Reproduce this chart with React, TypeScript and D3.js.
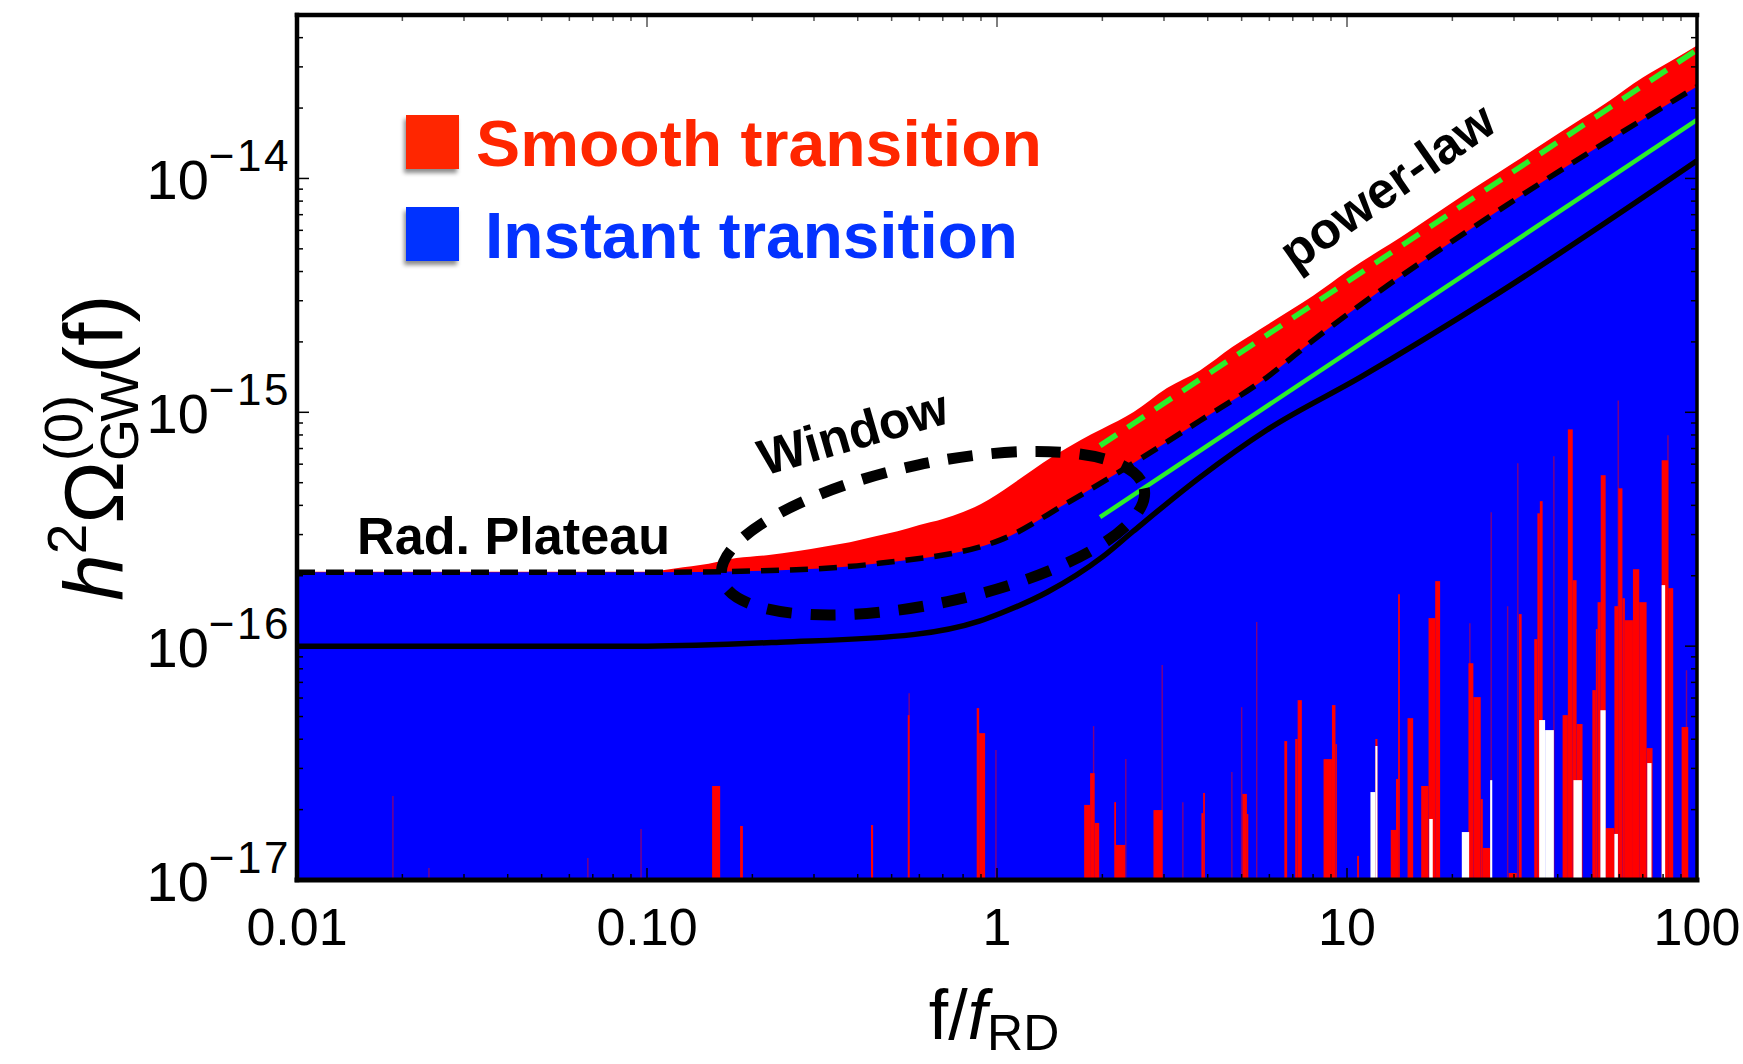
import React, { useEffect, useRef } from 'react';
import * as d3 from 'd3';

// axis ticks
const xTickValues = [0.01, 0.1, 1, 10, 100];
const xTickLabels = ['0.01', '0.10', '1', '10', '100'];
const yTickValues = [1e-17, 1e-16, 1e-15, 1e-14];
const yTickExponents = ['−17', '−16', '−15', '−14'];

// smooth transition (red fill), upper envelope
const smoothF = [0.01, 0.1, 0.12, 0.15, 0.18, 0.22, 0.27, 0.32, 0.38, 0.45, 0.52, 0.6, 0.7, 0.8, 0.9, 1.0, 1.1, 1.27, 1.45, 1.73, 2.0, 2.45, 3.06, 3.8, 4.7, 6, 8, 10, 15, 20, 30, 40, 55, 70, 85, 100];
const smoothOmega = [2.08e-16, 2.08e-16, 2.15e-16, 2.25e-16, 2.38e-16, 2.45e-16, 2.55e-16, 2.66e-16, 2.78e-16, 2.95e-16, 3.1e-16, 3.3e-16, 3.5e-16, 3.75e-16, 4.05e-16, 4.45e-16, 4.9e-16, 5.7e-16, 6.5e-16, 7.6e-16, 8.5e-16, 1.0e-15, 1.27e-15, 1.51e-15, 1.9e-15, 2.4e-15, 3.15e-15, 4.0e-15, 5.9e-15, 7.9e-15, 1.17e-14, 1.55e-14, 2.1e-14, 2.7e-14, 3.2e-14, 3.7e-14];

// instant transition (blue fill) = thin dashed black curve
const instantF = [0.01, 0.1, 0.24, 0.46, 1.02, 1.58, 2.45, 3.8, 5.9, 8, 26, 100];
const instantOmega = [2.07e-16, 2.07e-16, 2.11e-16, 2.26e-16, 2.84e-16, 4.08e-16, 6.05e-16, 9.2e-16, 1.41e-15, 2.03e-15, 7.0e-15, 2.47e-14];

// solid black curve
const solidF = [0.01, 0.1, 0.24, 0.575, 0.89, 1.02, 1.39, 2.01, 2.45, 3.8, 5.9, 10.9, 25.9, 100];
const solidOmega = [1e-16, 1e-16, 1.04e-16, 1.12e-16, 1.28e-16, 1.38e-16, 1.7e-16, 2.42e-16, 3.1e-16, 5.27e-16, 8.4e-16, 1.41e-15, 3.1e-15, 1.19e-14];

// green power-law guides
const powerDashedF = [1.97, 100];
const powerDashedOmega = [7.2e-16, 3.55e-14];
const powerSolidF = [1.97, 100];
const powerSolidOmega = [3.56e-16, 1.78e-14];

// "Window" ellipse: centre and half-axes in decades
const windowCenter = [0.656, 3.04e-16];
const windowHalfDecades = [0.617, 0.299];

// drop-outs of the blue spectrum: [log10 f from, log10 f to, log10 Omega top]
const redDrops = [
  [-0.814, -0.791, -16.598], [-0.734, -0.726, -16.769], [-0.36, -0.354, -16.765], [-0.255, -0.25, -16.295],
  [-0.058, -0.051, -16.265], [-0.051, -0.034, -16.372], [0.249, 0.266, -16.679], [0.266, 0.279, -16.543],
  [0.279, 0.292, -16.756], [0.335, 0.34, -16.667], [0.34, 0.366, -16.85], [0.447, 0.473, -16.701],
  [0.584, 0.589, -16.714], [0.589, 0.594, -16.628], [0.701, 0.714, -16.632], [0.714, 0.718, -16.718],
  [0.821, 0.829, -16.406], [0.852, 0.859, -16.397], [0.859, 0.871, -16.231], [0.933, 0.957, -16.483],
  [0.957, 0.967, -16.252], [0.967, 0.971, -16.419], [1.029, 1.034, -16.897], [1.081, 1.087, -16.397],
  [1.125, 1.14, -16.786], [1.14, 1.146, -16.568], [1.146, 1.151, -15.778], [1.173, 1.189, -16.308],
  [1.212, 1.233, -16.598], [1.233, 1.252, -15.88], [1.252, 1.266, -15.722], [1.347, 1.361, -16.073],
  [1.361, 1.382, -16.218], [1.382, 1.388, -16.654], [1.388, 1.409, -16.863], [1.462, 1.485, -16.97],
  [1.491, 1.499, -15.863], [1.535, 1.544, -15.97], [1.544, 1.551, -15.432], [1.551, 1.559, -15.38],
  [1.616, 1.631, -16.295], [1.631, 1.645, -15.073], [1.645, 1.656, -15.718], [1.656, 1.673, -16.333],
  [1.701, 1.711, -16.188], [1.711, 1.716, -15.927], [1.716, 1.725, -15.812], [1.725, 1.739, -15.269],
  [1.739, 1.764, -16.778], [1.764, 1.775, -15.829], [1.775, 1.787, -15.325], [1.787, 1.794, -15.795],
  [1.794, 1.817, -15.889], [1.817, 1.835, -15.671], [1.835, 1.856, -15.812], [1.856, 1.873, -16.436],
  [1.899, 1.918, -15.205], [1.918, 1.932, -15.752], [1.956, 1.975, -16.346],
];
const whiteDrops = [
  [1.067, 1.081, -16.624], [1.081, 1.087, -16.427], [1.235, 1.245, -16.739], [1.328, 1.349, -16.795],
  [1.409, 1.415, -16.573], [1.549, 1.566, -16.316], [1.566, 1.591, -16.359], [1.647, 1.671, -16.573],
  [1.724, 1.739, -16.274], [1.764, 1.774, -16.803], [1.858, 1.87, -16.5], [1.899, 1.909, -15.739],
];
// hairline drop-outs: [log10 f, log10 Omega top]
const thinDrops = [
  [-1.726, -16.641], [-1.623, -16.949], [-1.169, -16.906], [-1.017, -16.782], [-0.251, -16.201],
  [-0.003, -16.444], [0.276, -16.342], [0.368, -16.483], [0.472, -16.081], [0.531, -16.667],
  [0.671, -16.538], [0.699, -16.261], [0.742, -15.897], [1.351, -15.902], [1.412, -15.427],
  [1.459, -15.829], [1.488, -15.218], [1.591, -15.188], [1.775, -14.949], [1.917, -15.098], [1.97, -16.103],
];

const FONT = '"Liberation Sans", Arial, Helvetica, sans-serif';

const zip = (a, b) => a.map((v, i) => [v, b[i]]);

const App = () => {
  const svgRef = useRef(null);

  useEffect(() => {
    const svg = d3.select(svgRef.current);
    svg.selectAll('*').remove();

    const left = 297, right = 1697, top = 15, bottom = 880;
    const x = d3.scaleLog().domain([0.01, 100]).range([left, right]);
    const y = d3.scaleLog().domain([1e-17, 5e-14]).range([bottom, top]);

    const defs = svg.append('defs');
    defs.append('clipPath').attr('id', 'plotClip')
      .append('rect').attr('x', left).attr('y', top).attr('width', right - left).attr('height', bottom - top);
    defs.append('filter').attr('id', 'legendShadow')
      .attr('x', '-30%').attr('y', '-30%').attr('width', '160%').attr('height', '160%')
      .append('feDropShadow').attr('dx', -2).attr('dy', 4).attr('stdDeviation', 2).attr('flood-opacity', 0.45);

    const g = svg.append('g').attr('clip-path', 'url(#plotClip)');

    const area = d3.area().x(d => x(d[0])).y0(bottom).y1(d => y(d[1])).curve(d3.curveMonotoneX);
    const line = d3.line().x(d => x(d[0])).y(d => y(d[1])).curve(d3.curveMonotoneX);

    g.append('path').datum(zip(smoothF, smoothOmega)).attr('d', area).attr('fill', '#ff0000');
    g.append('path').datum(zip(instantF, instantOmega)).attr('d', area).attr('fill', '#0000ff');

    g.selectAll('.red-drop').data(redDrops).join('rect')
      .attr('class', 'red-drop')
      .attr('x', d => x(10 ** d[0]))
      .attr('width', d => Math.max(1.2, x(10 ** d[1]) - x(10 ** d[0])))
      .attr('y', d => y(10 ** d[2]))
      .attr('height', d => bottom - y(10 ** d[2]))
      .attr('fill', '#ff0000');

    g.selectAll('.thin-drop').data(thinDrops).join('line')
      .attr('class', 'thin-drop')
      .attr('x1', d => x(10 ** d[0])).attr('x2', d => x(10 ** d[0]))
      .attr('y1', bottom).attr('y2', d => y(10 ** d[1]))
      .attr('stroke', '#ff0000').attr('stroke-opacity', 0.5).attr('stroke-width', 1.4);

    g.selectAll('.white-drop').data(whiteDrops).join('rect')
      .attr('class', 'white-drop')
      .attr('x', d => x(10 ** d[0]))
      .attr('width', d => Math.max(1.2, x(10 ** d[1]) - x(10 ** d[0])))
      .attr('y', d => y(10 ** d[2]))
      .attr('height', d => bottom - y(10 ** d[2]))
      .attr('fill', '#ffffff');

    g.append('path').datum(zip(solidF, solidOmega)).attr('d', line)
      .attr('fill', 'none').attr('stroke', '#000').attr('stroke-width', 5.5);
    g.append('path').datum(zip(powerSolidF, powerSolidOmega)).attr('d', line)
      .attr('fill', 'none').attr('stroke', '#2bef2b').attr('stroke-width', 4.5);
    g.append('path').datum(zip(powerDashedF, powerDashedOmega)).attr('d', line)
      .attr('fill', 'none').attr('stroke', '#2bef2b').attr('stroke-width', 5.5).attr('stroke-dasharray', '20 13');
    g.append('path').datum(zip(instantF, instantOmega)).attr('d', line)
      .attr('fill', 'none').attr('stroke', '#000').attr('stroke-width', 5.5).attr('stroke-dasharray', '18 11');

    // Window ellipse
    const cx = x(windowCenter[0]);
    const cy = y(windowCenter[1]);
    const rx = x(windowCenter[0] * 10 ** windowHalfDecades[0]) - cx;
    const ry = cy - y(windowCenter[1] * 10 ** windowHalfDecades[1]);
    g.append('ellipse')
      .attr('cx', cx).attr('cy', cy).attr('rx', rx).attr('ry', ry)
      .attr('transform', `rotate(-12 ${cx} ${cy})`)
      .attr('fill', 'none').attr('stroke', '#000').attr('stroke-width', 11).attr('stroke-dasharray', '25 19');

    // ticks
    const isMajor = t => Math.abs(Math.log10(t) - Math.round(Math.log10(t))) < 1e-6;
    const ticks = svg.append('g').attr('stroke', '#000').attr('stroke-width', 1.5);
    x.ticks().forEach(t => {
      const len = isMajor(t) ? 12 : 6;
      ticks.append('line').attr('x1', x(t)).attr('x2', x(t)).attr('y1', bottom).attr('y2', bottom - len);
      ticks.append('line').attr('x1', x(t)).attr('x2', x(t)).attr('y1', top).attr('y2', top + len).attr('stroke', '#555');
    });
    y.ticks().forEach(t => {
      const len = isMajor(t) ? 12 : 6;
      ticks.append('line').attr('x1', left).attr('x2', left + len).attr('y1', y(t)).attr('y2', y(t));
      ticks.append('line').attr('x1', right).attr('x2', right - len).attr('y1', y(t)).attr('y2', y(t));
    });

    // frame
    const frame = svg.append('g').attr('stroke', '#000').attr('stroke-linecap', 'square');
    frame.append('line').attr('x1', left).attr('x2', right).attr('y1', bottom).attr('y2', bottom).attr('stroke-width', 5);
    frame.append('line').attr('x1', left).attr('x2', left).attr('y1', top).attr('y2', bottom).attr('stroke-width', 4.5);
    frame.append('line').attr('x1', left).attr('x2', right).attr('y1', top).attr('y2', top).attr('stroke-width', 4.5);
    frame.append('line').attr('x1', right).attr('x2', right).attr('y1', top).attr('y2', bottom).attr('stroke-width', 3.5);

    // tick labels
    svg.append('g').selectAll('text').data(xTickValues).join('text')
      .attr('x', d => x(d)).attr('y', 945)
      .attr('text-anchor', 'middle')
      .attr('font-family', FONT).attr('font-size', 52)
      .text((d, i) => xTickLabels[i]);

    const yl = svg.append('g').attr('font-family', FONT);
    yTickValues.forEach((v, i) => {
      const t = yl.append('text').attr('x', 291).attr('y', y(v) + 21).attr('text-anchor', 'end').attr('font-size', 56);
      t.append('tspan').text('10');
      t.append('tspan').attr('dy', -28).attr('font-size', 44).attr('letter-spacing', 2.5).text(yTickExponents[i]);
    });

    // axis titles
    const xt = svg.append('text').attr('x', 994).attr('y', 1039).attr('text-anchor', 'middle')
      .attr('font-family', FONT).attr('font-size', 70);
    xt.append('tspan').text('f/');
    xt.append('tspan').attr('font-style', 'italic').text('f');
    xt.append('tspan').attr('font-size', 50).attr('dy', 11).text('RD');

    const yt = svg.append('text').attr('transform', 'translate(123,601) rotate(-90)')
      .attr('font-family', FONT).attr('font-size', 84);
    yt.append('tspan').attr('font-style', 'italic').text('h');
    yt.append('tspan').attr('font-size', 55).attr('dy', -37).text('2');
    yt.append('tspan').attr('dy', 37).text('Ω');
    yt.append('tspan').attr('font-size', 54).attr('dy', -41).text('(0)');
    yt.append('tspan').attr('font-size', 54).attr('dx', -66).attr('dy', 56).attr('textLength', 90).text('GW');
    yt.append('tspan').attr('dy', -15).text('(f)');

    // legend
    svg.append('rect').attr('x', 406).attr('y', 115).attr('width', 53).attr('height', 54)
      .attr('fill', '#ff2600').attr('filter', 'url(#legendShadow)');
    svg.append('rect').attr('x', 406).attr('y', 207).attr('width', 53).attr('height', 54)
      .attr('fill', '#0433ff').attr('filter', 'url(#legendShadow)');
    svg.append('text').attr('x', 476).attr('y', 166).attr('font-family', FONT).attr('font-weight', 'bold')
      .attr('font-size', 65).attr('fill', '#ff2600').attr('textLength', 566).attr('lengthAdjust', 'spacingAndGlyphs')
      .text('Smooth transition');
    svg.append('text').attr('x', 485).attr('y', 258).attr('font-family', FONT).attr('font-weight', 'bold')
      .attr('font-size', 65).attr('fill', '#0433ff').attr('textLength', 533).attr('lengthAdjust', 'spacingAndGlyphs')
      .text('Instant transition');

    // annotations
    svg.append('text').attr('x', 357).attr('y', 554).attr('font-family', FONT).attr('font-weight', 'bold')
      .attr('font-size', 51).attr('textLength', 313).attr('lengthAdjust', 'spacingAndGlyphs').text('Rad. Plateau');
    svg.append('text').attr('transform', 'translate(764,476) rotate(-16)').attr('font-family', FONT)
      .attr('font-weight', 'bold').attr('font-size', 51).text('Window');
    svg.append('text').attr('transform', 'translate(1295,272) rotate(-35)').attr('font-family', FONT)
      .attr('font-weight', 'bold').attr('font-size', 51).text('power-law');
  }, []);

  return (
    <svg ref={svgRef} width={1743} height={1064}
      style={{ position: 'absolute', left: 0, top: 0, background: '#fff' }} />
  );
};

export default App;
